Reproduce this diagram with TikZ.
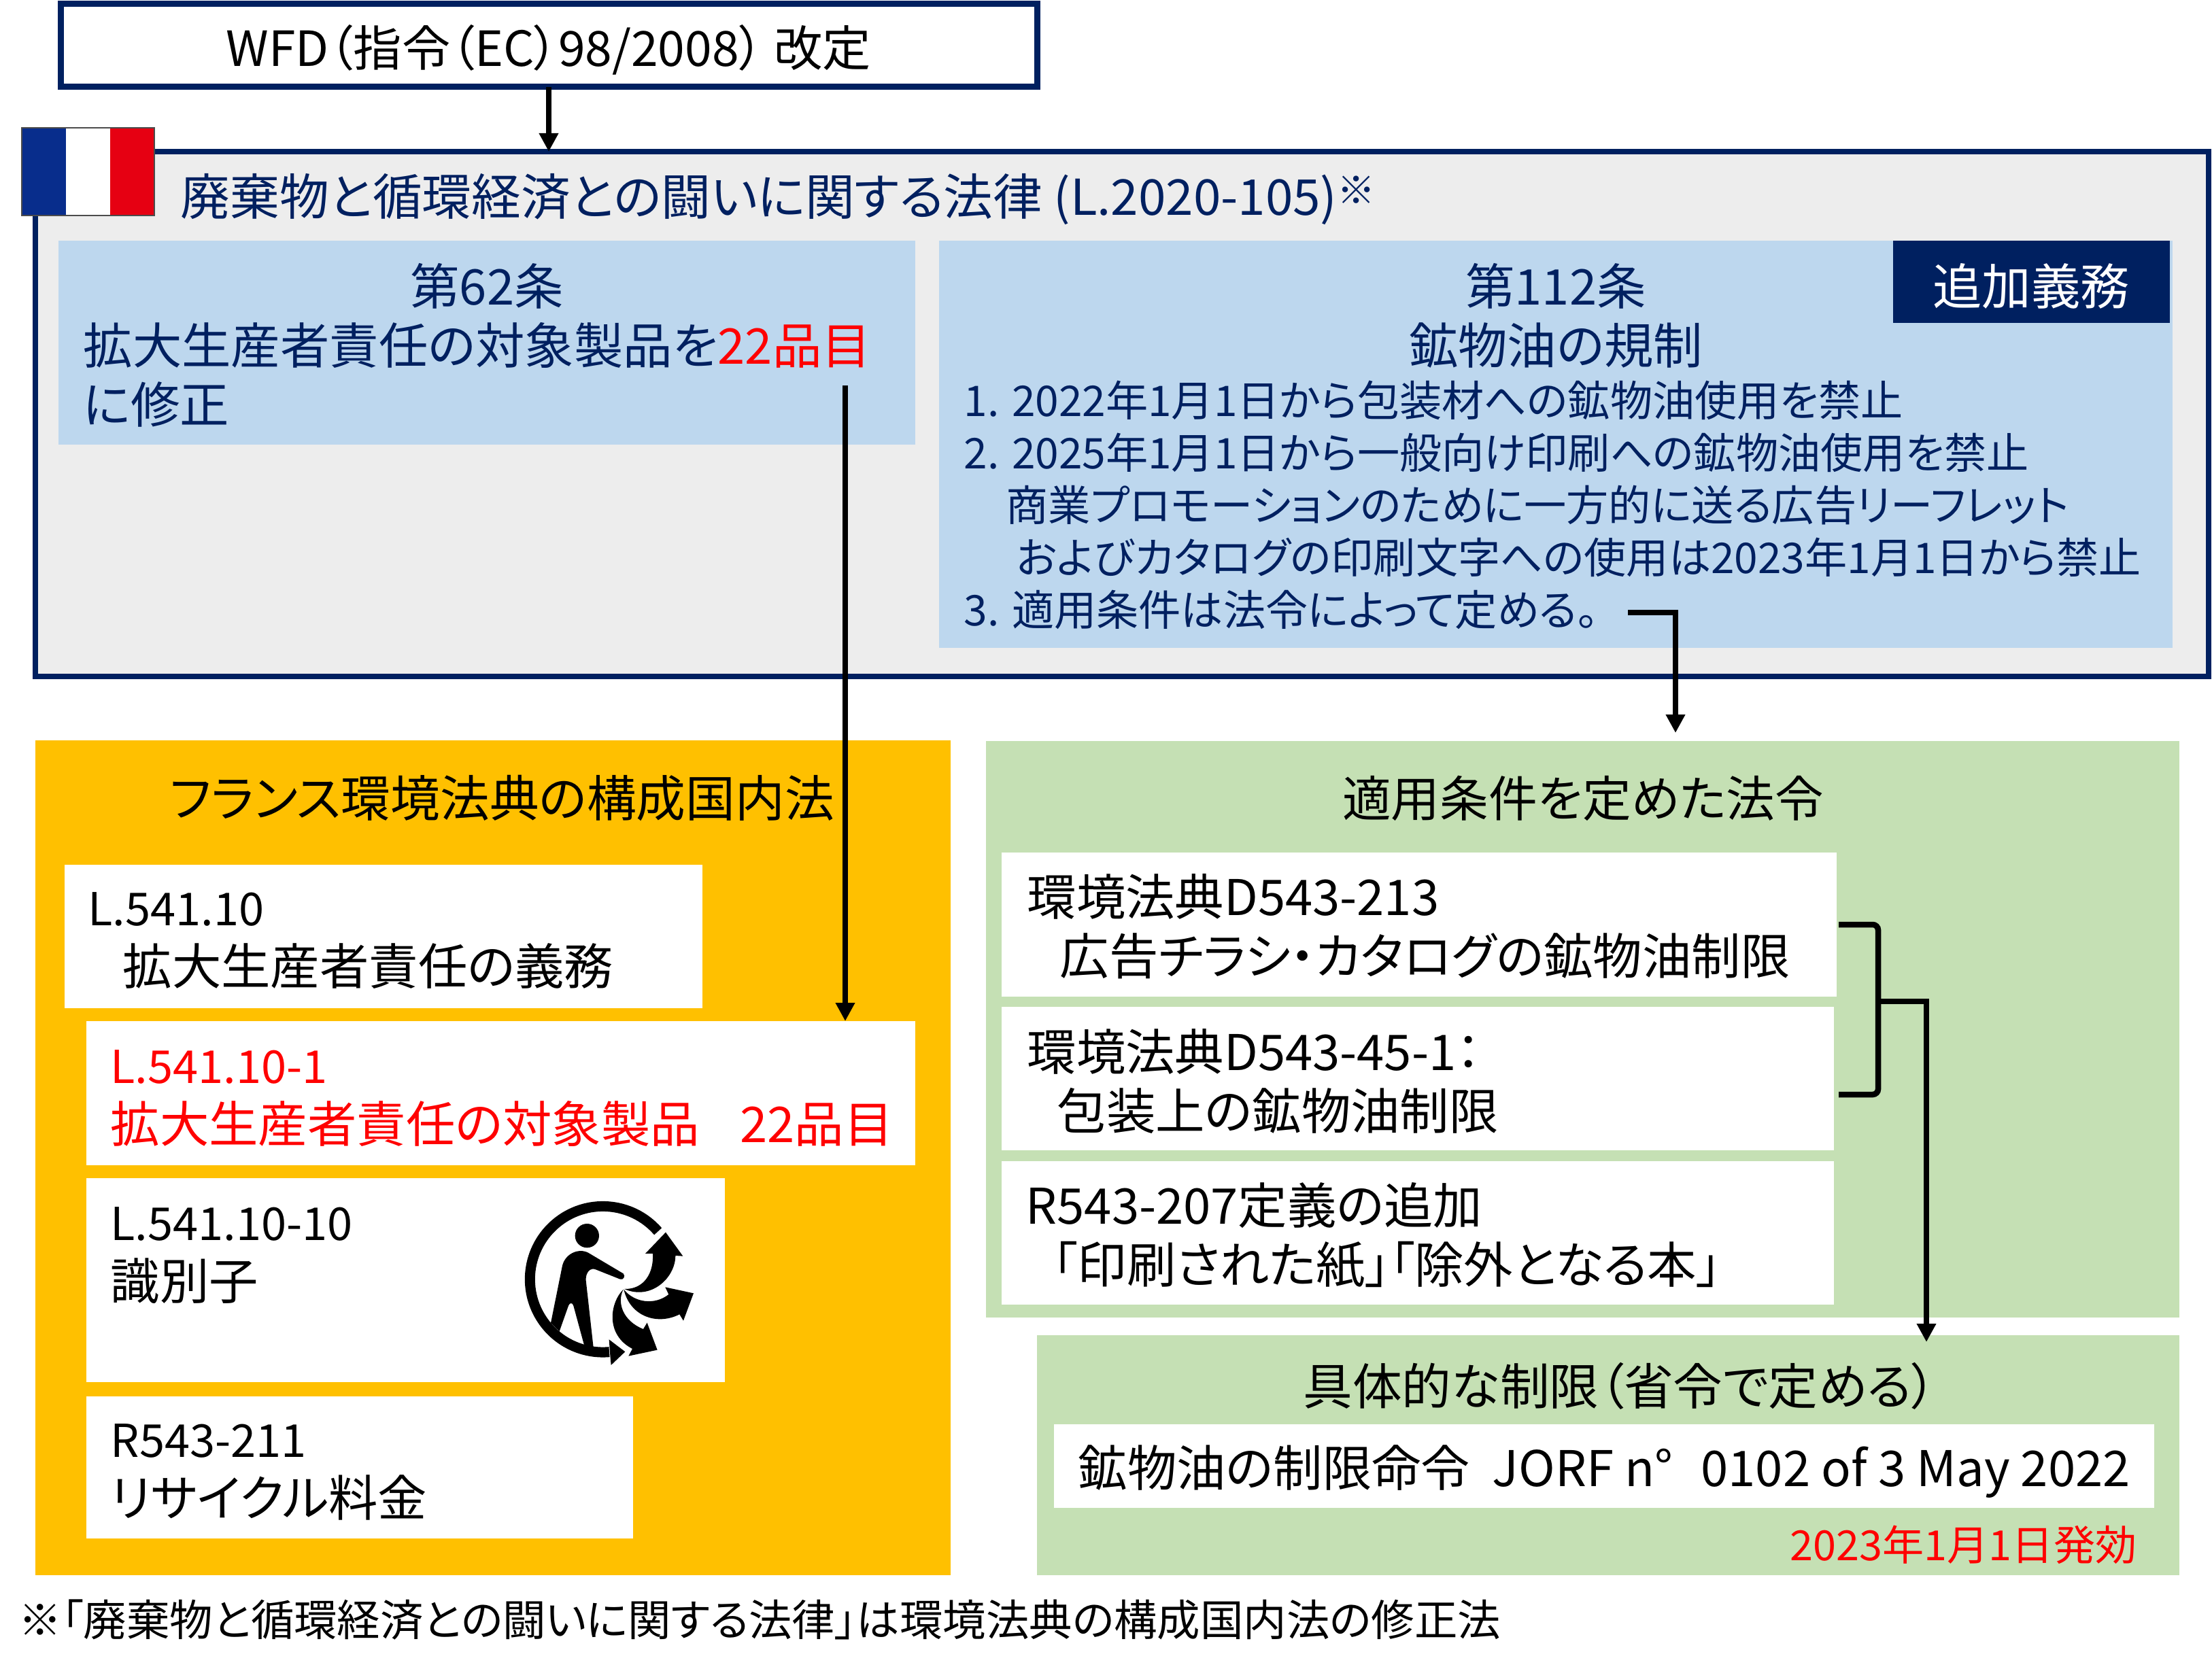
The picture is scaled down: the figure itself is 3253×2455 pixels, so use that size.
\documentclass[tikz,border=0pt]{standalone}
\usepackage{fontspec}
\setmainfont{Noto Sans CJK JP}[RawFeature=+palt]
\usetikzlibrary{arrows.meta}
\usetikzlibrary{positioning}
\definecolor{navy}{HTML}{002060}
\definecolor{lawgray}{HTML}{EDEDED}
\definecolor{artblue}{HTML}{BDD7EE}
\definecolor{codeorange}{HTML}{FFC000}
\definecolor{decreegreen}{HTML}{C5E0B4}
\definecolor{flagblue}{HTML}{082D8C}
\definecolor{flagred}{HTML}{E60012}
\newcommand{\refno}[1]{{\fontsize{19}{24.75}\selectfont #1}}

\begin{document}
\begin{tikzpicture}[
x=0.1mm, y=-0.1mm,
big/.style={font=\fontsize{20.6}{24.75}\selectfont},
small/.style={font=\fontsize{17.7}{21.9}\selectfont},
title/.style={font=\fontsize{20.7}{24}\selectfont},
box/.style 2 args={rectangle, anchor=north west, inner sep=0pt, outer sep=0pt, minimum width=#1*0.1mm, minimum height=#2*0.1mm},
whitebox/.style 2 args={box={#1}{#2}, fill=white},
label/.style={inner sep=0pt, anchor=west, align=left},
head/.style={inner sep=0pt, anchor=center, align=center},
link/.style={line width=0.85mm, -{Triangle[length=2.7mm, width=2.7mm]}},
]
\useasboundingbox (0,0) rectangle (3253,2455);

% top of the picture
\node[box={1436}{122}, draw=navy, line width=0.9mm, fill=white] (wfd) at (89,6) {};
\node[head, font=\fontsize{20.3}{24}\selectfont] (wfdtext) at (807,73) {WFD（指令（EC）98/2008） 改定};
\node[box={3196}{772}, draw=navy, line width=0.8mm, fill=lawgray] (law) at (52,223) {};
\node[box={65}{129}, fill=flagblue] (flagb) at (32,188) {};
\node[box={65}{129}, fill=white] (flagw) at (97,188) {};
\node[box={65}{129}, fill=flagred] (flagr) at (162,188) {};
\draw[line width=0.15mm, black!70] (flagb.north west) rectangle (flagr.south east);
\node[label, title, text=navy] (lawtitle) at (265,293) {廃棄物と循環経済との闘いに関する法律 (L.2020-105)\raisebox{1.6mm}{\fontsize{16}{16}\selectfont ※}};

% the two articles
\node[box={1260}{300}, fill=artblue] (art62) at (86,354) {};
\node[head, big, text=navy] (art62head) at (716,421) {第62条};
\node[label, big, text=navy] (art62text) at (122,551) {拡大生産者責任の対象製品を\textcolor{red}{22品目}\\に修正};

\node[box={1814}{599}, fill=artblue] (art112) at (1381,354) {};
\node[box={407}{121}, fill=navy] (extra) at (2784,354) {};
\node[head, big, text=white] (extratext) at (2987,421) {追加義務};
\node[head, big, text=navy] (art112head) at (2288,464.5) {第112条\\鉱物油の規制};
\node[label, small, text=navy] (art112text) at (1417,743) {1. 2022年1月1日から包装材への鉱物油使用を禁止\\
2. 2025年1月1日から一般向け印刷への鉱物油使用を禁止\\
\hspace*{6.2mm}商業プロモーションのために一方的に送る広告リーフレット\\
\hspace*{7.7mm}およびカタログの印刷文字への使用は2023年1月1日から禁止\\
3. 適用条件は法令によって定める。};

% french code
\node[box={1346}{1228}, fill=codeorange] (code) at (52,1089) {};
\node[label, title] (codetitle) at (249,1174) {フランス環境法典の構成国内法};
\node[whitebox={938}{211}] (l10) at (95,1272) {};
\node[label, big] (l10text) at (129,1384) {\refno{L.541.10}\\\hspace*{5.1mm}拡大生産者責任の義務};
\node[whitebox={1219}{212}] (l10one) at (127,1502) {};
\node[label, big, text=red] (l10onetext) at (162,1616) {\refno{L.541.10-1}\\拡大生産者責任の対象製品 \ \hspace{2.7mm}22品目};
\node[whitebox={939}{300}] (l10ten) at (127,1733) {};
\node[label, big] (l10tentext) at (162,1847) {\refno{L.541.10-10}\\識別子};
\node[whitebox={804}{209}] (r211) at (127,2054) {};
\node[label, big] (r211text) at (162,2165) {\refno{R543-211}\\リサイクル料金};

% recycling mark
\begin{scope}[shift={(700,1700)}, x=0.1mm/3, y=-0.1mm/3]
\draw[line width=1.5mm] (803,334) arc[start angle=-41, end angle=-275, radius=322];
\fill (587,811) -- (658,865) -- (596,924) -- (592,880) -- cycle;
\fill (490,353) circle[radius=53];
\fill (330,738) -- (380,490) .. controls (390,435) and (450,405) .. (495,428)
  -- (650,520) .. controls (660,530) and (652,550) .. (636,545)
  -- (528,502) .. controls (505,492) and (483,515) .. (485,550)
  -- (518,845) -- (477,835) -- (430,662) .. controls (425,645) and (412,650) .. (408,662)
  -- (368,775) -- cycle;
\fill (655,588) .. controls (740,590) and (785,520) .. (780,432) -- (747,432) -- (837,338) -- (913,443) -- (880,441) .. controls (880,540) and (770,640) .. (655,588) -- cycle;
\fill (652,590) .. controls (700,650) and (790,660) .. (850,612) -- (835,580) -- (960,607) -- (915,728) -- (898,700) .. controls (800,750) and (680,710) .. (652,590) -- cycle;
\fill (650,590) .. controls (590,650) and (570,790) .. (690,852) -- (673,884) -- (800,857) -- (755,737) -- (738,765) .. controls (650,730) and (620,650) .. (650,590) -- cycle;
\end{scope}

% decrees
\node[box={1755}{848}, fill=decreegreen] (cond) at (1450,1090) {};
\node[head, font=\fontsize{20.4}{24}\selectfont] (condtitle) at (2328,1174) {適用条件を定めた法令};
\node[whitebox={1228}{212}] (d213) at (1473,1254) {};
\node[label, big] (d213text) at (1510,1363) {環境法典D543-213\\\hspace*{4.8mm}広告チラシ・カタログの鉱物油制限};
\node[whitebox={1224}{211}] (d45) at (1473,1481) {};
\node[label, big] (d45text) at (1510,1591) {環境法典D543-45-1：\\\hspace*{4.4mm}包装上の鉱物油制限};
\node[whitebox={1224}{211}] (r207) at (1473,1708) {};
\node[label, big] (r207text) at (1508,1817) {R543-207定義の追加\\\hspace*{4mm}「印刷された紙」「除外となる本」};

\node[box={1680}{353}, fill=decreegreen] (limit) at (1525,1964) {};
\node[head, title] (limittitle) at (2382,2039) {具体的な制限（省令で定める）};
\node[whitebox={1618}{123}] (order) at (1550,2095) {};
\node[label, big] (ordertext) at (1585,2164) {鉱物油の制限命令 \ JORF n°\hspace{2.5mm} 0102 of 3 May 2022};
\node[inner sep=0pt, anchor=east, text=red, font=\fontsize{17.4}{20}\selectfont] (effect) at (3143,2272) {2023年1月1日発効};

\node[label, font=\fontsize{18.05}{20}\selectfont] (note) at (27,2382) {※「廃棄物と循環経済との闘いに関する法律」は環境法典の構成国内法の修正法};

% connectors
\coordinate (art62out) at (1243,567);
\coordinate (art112out) at (2394,901);
\coordinate (condin) at (2464,1078);
\coordinate (bracktop) at (2704,1360);
\coordinate (brackbot) at (2704,1610);
\coordinate (brackmid) at (2762,1473);
\coordinate (limitin) at (2833,1974);

\draw[link] (wfd.south) -- (wfd.south |- law.north);
\draw[link] (art62out) -- (art62out |- l10one.north);
\draw[link] (art112out) -| (condin);
\draw[line width=0.85mm, rounded corners=0.8mm] (bracktop) -- (bracktop -| brackmid) -- (brackbot -| brackmid) -- (brackbot);
\draw[link] (brackmid) -| (limitin);
\end{tikzpicture}
\end{document}
